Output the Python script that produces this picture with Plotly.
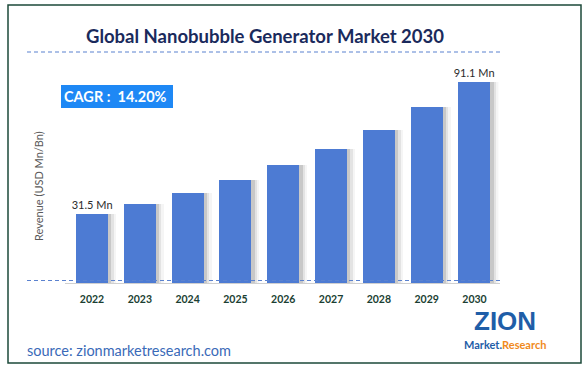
import plotly.graph_objects as go

years = ["2022", "2023", "2024", "2025", "2026", "2027", "2028", "2029", "2030"]
revenue = [31.5, 35.8, 40.9, 46.8, 53.3, 60.8, 69.5, 79.6, 91.1]
bar_labels = ["31.5 Mn", "", "", "", "", "", "", "", "91.1 Mn"]

W, H = 587, 370
FONT = "Lato"

def px(x):
    return x / W

def py(y):
    return 1 - y / H

BW = 0.67
fig = go.Figure()
# soft shadows to the right of bars
for off, alpha in [(0.17, 0.05), (0.12, 0.09), (0.07, 0.16)]:
    fig.add_trace(go.Bar(
        x=list(range(len(years))), y=revenue, width=BW, offset=-BW / 2 + off,
        marker=dict(color=f"rgba(60,60,60,{alpha})", line=dict(width=0)),
        hoverinfo="skip", showlegend=False))
fig.add_trace(go.Bar(
    x=list(range(len(years))), y=revenue, width=BW, offset=-BW / 2,
    marker=dict(color="#4d7bd3", line=dict(width=0)),
    text=bar_labels, textposition="outside", cliponaxis=False, constraintext="none",
    textfont=dict(family=FONT, size=11, color="#2b2b2b"),
    showlegend=False))

ymax = (283 - 60) / (201 / 91.1)
fig.update_layout(
    width=W, height=H, margin=dict(l=0, r=0, t=0, b=0),
    paper_bgcolor="white", plot_bgcolor="white",
    barmode="overlay", bargap=0,
    xaxis=dict(domain=[px(68.1), px(498.4)], range=[-0.5, 8.5],
               tickmode="array", tickvals=list(range(len(years))),
               ticktext=[f"<b>{y}</b>" for y in years],
               showgrid=False, zeroline=False, showline=False, ticks="",
               tickfont=dict(family=FONT, size=10.5, color="#1b3f33"),
               ticklabelstandoff=8),
    yaxis=dict(domain=[py(283), py(60)], range=[0, ymax],
               showgrid=False, zeroline=False, showline=False, showticklabels=False),
    font=dict(family=FONT),
)

DASH = "4px,3px"
shapes = [
    # outer border
    dict(type="rect", xref="paper", yref="paper", x0=px(8), x1=px(581), y0=py(363), y1=py(5),
         line=dict(color="#1d4a3a", width=1.5)),
    # title underline
    dict(type="line", xref="paper", yref="paper", x0=px(27), x1=px(500), y0=py(52), y1=py(52),
         line=dict(color="#5b82cf", width=1.2, dash=DASH)),
    # axis gray line
    dict(type="line", xref="paper", yref="paper", x0=px(65), x1=px(500), y0=py(283.5), y1=py(283.5),
         line=dict(color="#d0d0d0", width=1)),
    # bottom dashed
    dict(type="line", xref="paper", yref="paper", x0=px(27), x1=px(500), y0=py(280.5), y1=py(280.5),
         line=dict(color="#5b82cf", width=1.2, dash=DASH)),
    # CAGR box
    dict(type="rect", xref="paper", yref="paper", x0=px(61), x1=px(173), y0=py(108), y1=py(85),
         fillcolor="#1e88f5", line=dict(width=0)),
]
fig.update_layout(shapes=shapes)

ann = [
    dict(text="<b>Global Nanobubble Generator Market 2030</b>", x=px(265), y=py(36),
         font=dict(family=FONT, size=18.5, color="#1a2a5c")),
    dict(text="<b>CAGR :  14.20%</b>", x=px(115), y=py(96.5),
         font=dict(family=FONT, size=14.5, color="white")),
    dict(text="Revenue (USD Mn/Bn)", x=px(38), y=py(186), textangle=-90,
         font=dict(family=FONT, size=11, color="#595959")),
    dict(text="source: zionmarketresearch.com", x=px(25), y=py(350), xanchor="left",
         font=dict(family=FONT, size=14.5, color="#3a6ab8")),
    dict(text="<b>ZION</b>", x=px(505), y=py(321),
         font=dict(family="Liberation Sans", size=26, color="#1f5ea8")),
    dict(text="<b><span style='color:#1f5ea8'>Market.</span><span style='color:#f08a1c'>Research</span></b>",
         x=px(505), y=py(344), font=dict(family=FONT, size=11)),
]
for a in ann:
    a.setdefault("xref", "paper")
    a.setdefault("yref", "paper")
    a.setdefault("showarrow", False)
    a.setdefault("xanchor", "center")
    a.setdefault("yanchor", "middle")
fig.update_layout(annotations=ann)

fig.write_html(
    "out.html",
    config={"displayModeBar": False},
    post_script="document.body.style.margin='0';document.body.style.overflow='hidden';",
)
